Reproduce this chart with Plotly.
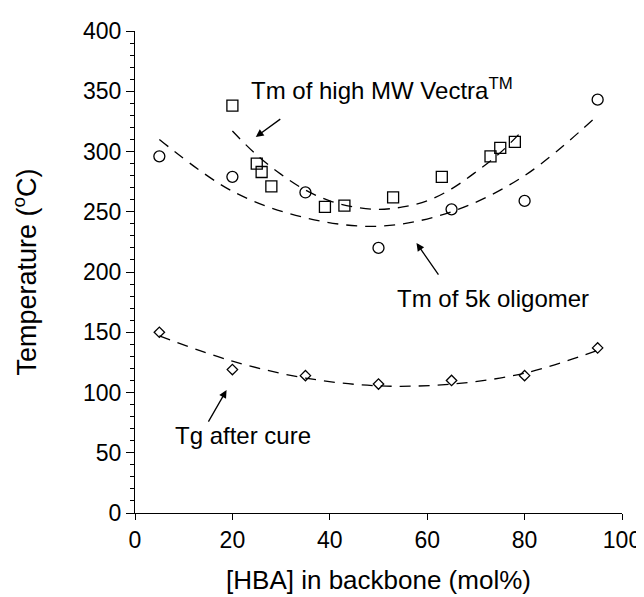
import plotly.graph_objects as go

# --- data ---
vectra_x = [20, 25, 26, 28, 39, 43, 53, 63, 73, 75, 78]
vectra_y = [338, 290, 283, 271, 254, 255, 262, 279, 296, 303, 308]

olig_x = [5, 20, 35, 50, 65, 80, 95]
olig_y = [296, 279, 266, 220, 252, 259, 343]

tg_x = [5, 20, 35, 50, 65, 80, 95]
tg_y = [150, 119, 114, 107, 110, 114, 137]

# dashed trend curves
vectra_fit_x = [20, 25, 30, 35, 40, 45, 50, 55, 60, 65, 70, 75, 79]
vectra_fit_y = [317, 297, 281, 268, 259, 254, 252, 254, 259, 269, 283, 299, 315]

olig_fit_x = [5, 20, 35, 50, 65, 80, 95]
olig_fit_y = [310, 267, 245, 238, 250, 280, 330]

tg_fit_x = [5, 20, 35, 50, 65, 80, 95]
tg_fit_y = [147, 126, 112, 105.5, 107, 116, 135]

x_ticks = [0, 20, 40, 60, 80, 100]
y_ticks = [0, 50, 100, 150, 200, 250, 300, 350, 400]

FONT = "Liberation Sans, Arial, Helvetica, sans-serif"
DASH = "11px,8px"

fig = go.Figure()

for fx, fy in [(vectra_fit_x, vectra_fit_y), (olig_fit_x, olig_fit_y), (tg_fit_x, tg_fit_y)]:
    fig.add_trace(go.Scatter(x=fx, y=fy, mode="lines", line=dict(color="black", width=1.3, dash=DASH, shape="spline", smoothing=1.0), hoverinfo="skip", showlegend=False))

fig.add_trace(go.Scatter(x=vectra_x, y=vectra_y, mode="markers", marker=dict(symbol="square-open", size=11, color="black", line=dict(width=1.3, color="black")), showlegend=False))
fig.add_trace(go.Scatter(x=olig_x, y=olig_y, mode="markers", marker=dict(symbol="circle-open", size=11, color="black", line=dict(width=1.3, color="black")), showlegend=False))
fig.add_trace(go.Scatter(x=tg_x, y=tg_y, mode="markers", marker=dict(symbol="diamond-open", size=8, color="black", line=dict(width=1.3, color="black")), showlegend=False))

ann_font = dict(family=FONT, size=24, color="black")
annotations = [
    dict(x=23.4, y=352, xref="x", yref="y", text="Tm of high MW Vectra<sup>TM</sup>", showarrow=False, xanchor="left", yanchor="middle", font=ann_font),
    dict(x=53.4, y=178, xref="x", yref="y", text="Tm of 5k oligomer", showarrow=False, xanchor="left", yanchor="middle", font=ann_font),
    dict(x=7.8, y=64, xref="x", yref="y", text="Tg after cure", showarrow=False, xanchor="left", yanchor="middle", font=ann_font),
    # arrows
    dict(x=24.8, y=312, xref="x", yref="y", ax=26, ay=-19, text="", showarrow=True, arrowhead=2, arrowsize=1.2, arrowwidth=1.3, arrowcolor="black"),
    dict(x=57.8, y=224, xref="x", yref="y", ax=23, ay=33, text="", showarrow=True, arrowhead=2, arrowsize=1.2, arrowwidth=1.3, arrowcolor="black"),
    dict(x=18.8, y=102, xref="x", yref="y", ax=-19, ay=33, text="", showarrow=True, arrowhead=2, arrowsize=1.2, arrowwidth=1.3, arrowcolor="black"),
]

# the page body adds an 8px offset, so margins are shifted to keep the plot area in place
fig.update_layout(
    width=644, height=597, autosize=False,
    margin=dict(l=127, r=30, t=23, b=92),
    paper_bgcolor="white", plot_bgcolor="white",
    font=dict(family=FONT, color="black", size=23),
    annotations=annotations,
    showlegend=False,
)

fig.update_xaxes(
    range=[0, 100], tickvals=x_ticks, ticks="outside", ticklen=6, tickwidth=1, tickcolor="black",
    showline=True, linecolor="black", linewidth=1, showgrid=False, zeroline=False,
    tickfont=dict(size=23, family=FONT), automargin=False,
    title=dict(text="[HBA] in backbone (mol%)", font=dict(size=26, family=FONT), standoff=19),
)
fig.update_yaxes(
    range=[0, 400], tickvals=y_ticks, ticks="outside", ticklen=8, tickwidth=1, tickcolor="black",
    showline=True, linecolor="black", linewidth=1, showgrid=False, zeroline=False,
    minor=dict(dtick=10, ticks="outside", ticklen=4, tickwidth=1, tickcolor="black", showgrid=False),
    tickfont=dict(size=23, family=FONT), automargin=False,
    title=dict(text="Temperature (<sup>o</sup>C)", font=dict(size=27, family=FONT), standoff=38),
)

fig.write_html("out.html")
